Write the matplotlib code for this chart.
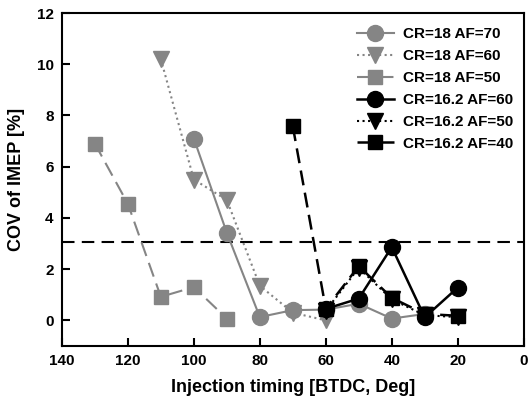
import numpy as np
import matplotlib.pyplot as plt

plt.rcParams['font.family'] = ['Liberation Sans', 'DejaVu Sans']
plt.rcParams['font.weight'] = 'bold'

# injection timing [BTDC, deg] and COV of IMEP [%]
x_cr18_af70 = [100, 90, 80, 70, 60, 50, 40, 30]
y_cr18_af70 = [7.1, 3.42, 0.13, 0.4, 0.42, 0.65, 0.07, 0.25]

x_cr18_af60 = [110, 100, 90, 80, 70, 60]
y_cr18_af60 = [10.2, 5.5, 4.7, 1.35, 0.3, 0.0]

x_cr18_af50 = [130, 120, 110, 100, 90]
y_cr18_af50 = [6.9, 4.55, 0.92, 1.3, 0.07]

x_cr162_af60 = [60, 50, 40, 30, 20]
y_cr162_af60 = [0.45, 0.85, 2.86, 0.12, 1.28]

x_cr162_af50 = [60, 50, 40, 30, 20]
y_cr162_af50 = [0.38, 2.05, 0.82, 0.2, 0.13]

x_cr162_af40 = [70, 60, 50, 40, 30, 20]
y_cr162_af40 = [7.58, 0.45, 2.12, 0.88, 0.25, 0.18]

limit_line = 3.05

gray = '#858585'
fig = plt.figure(figsize=(5.29, 4.08), dpi=100)
ax = fig.add_axes([0.117, 0.152, 0.873, 0.816])

ax.axhline(limit_line, color='black', lw=1.5, ls=(0, (6, 3.5)), zorder=1)

ax.plot(x_cr18_af70, y_cr18_af70, color=gray, ls='-', lw=1.5, marker='o', ms=11.5, label='CR=18 AF=70')
ax.plot(x_cr18_af60, y_cr18_af60, color=gray, ls=':', lw=1.5, marker='v', ms=11.5, label='CR=18 AF=60')
ax.plot(x_cr18_af50, y_cr18_af50, color=gray, ls=(0, (7, 3.5)), lw=1.5, marker='s', ms=10.5, label='CR=18 AF=50')
ax.plot(x_cr162_af50, y_cr162_af50, color='black', ls=':', lw=1.5, marker='v', ms=11.5, label='CR=16.2 AF=50')
ax.plot(x_cr162_af40, y_cr162_af40, color='black', ls=(0, (6, 3)), lw=1.8, marker='s', ms=10.5, label='CR=16.2 AF=40')
ax.plot(x_cr162_af60, y_cr162_af60, color='black', ls='-', lw=1.8, marker='o', ms=11.5, label='CR=16.2 AF=60')

ax.set_xlim(140, 0)
ax.set_ylim(-1, 12)
ax.set_xticks(np.arange(140, -1, -20))
ax.set_yticks(np.arange(0, 13, 2))
ax.tick_params(direction='in', length=6, width=1.5, labelsize=11, top=False, right=False, pad=6)
for s in ax.spines.values():
    s.set_linewidth(1.5)

ax.set_xlabel('Injection timing [BTDC, Deg]', fontsize=13, fontweight='bold', labelpad=8)
ax.set_ylabel('COV of IMEP [%]', fontsize=13, fontweight='bold', labelpad=8)

h, l = ax.get_legend_handles_labels()
order = [0, 1, 2, 5, 3, 4]
ax.legend([h[i] for i in order], [l[i] for i in order], loc='upper right', frameon=False,
          fontsize=11, handlelength=2.4, handletextpad=0.6, labelspacing=0.52, borderaxespad=0.3,
          bbox_to_anchor=(1.0, 0.99))

fig.savefig('out.png', dpi=100)
